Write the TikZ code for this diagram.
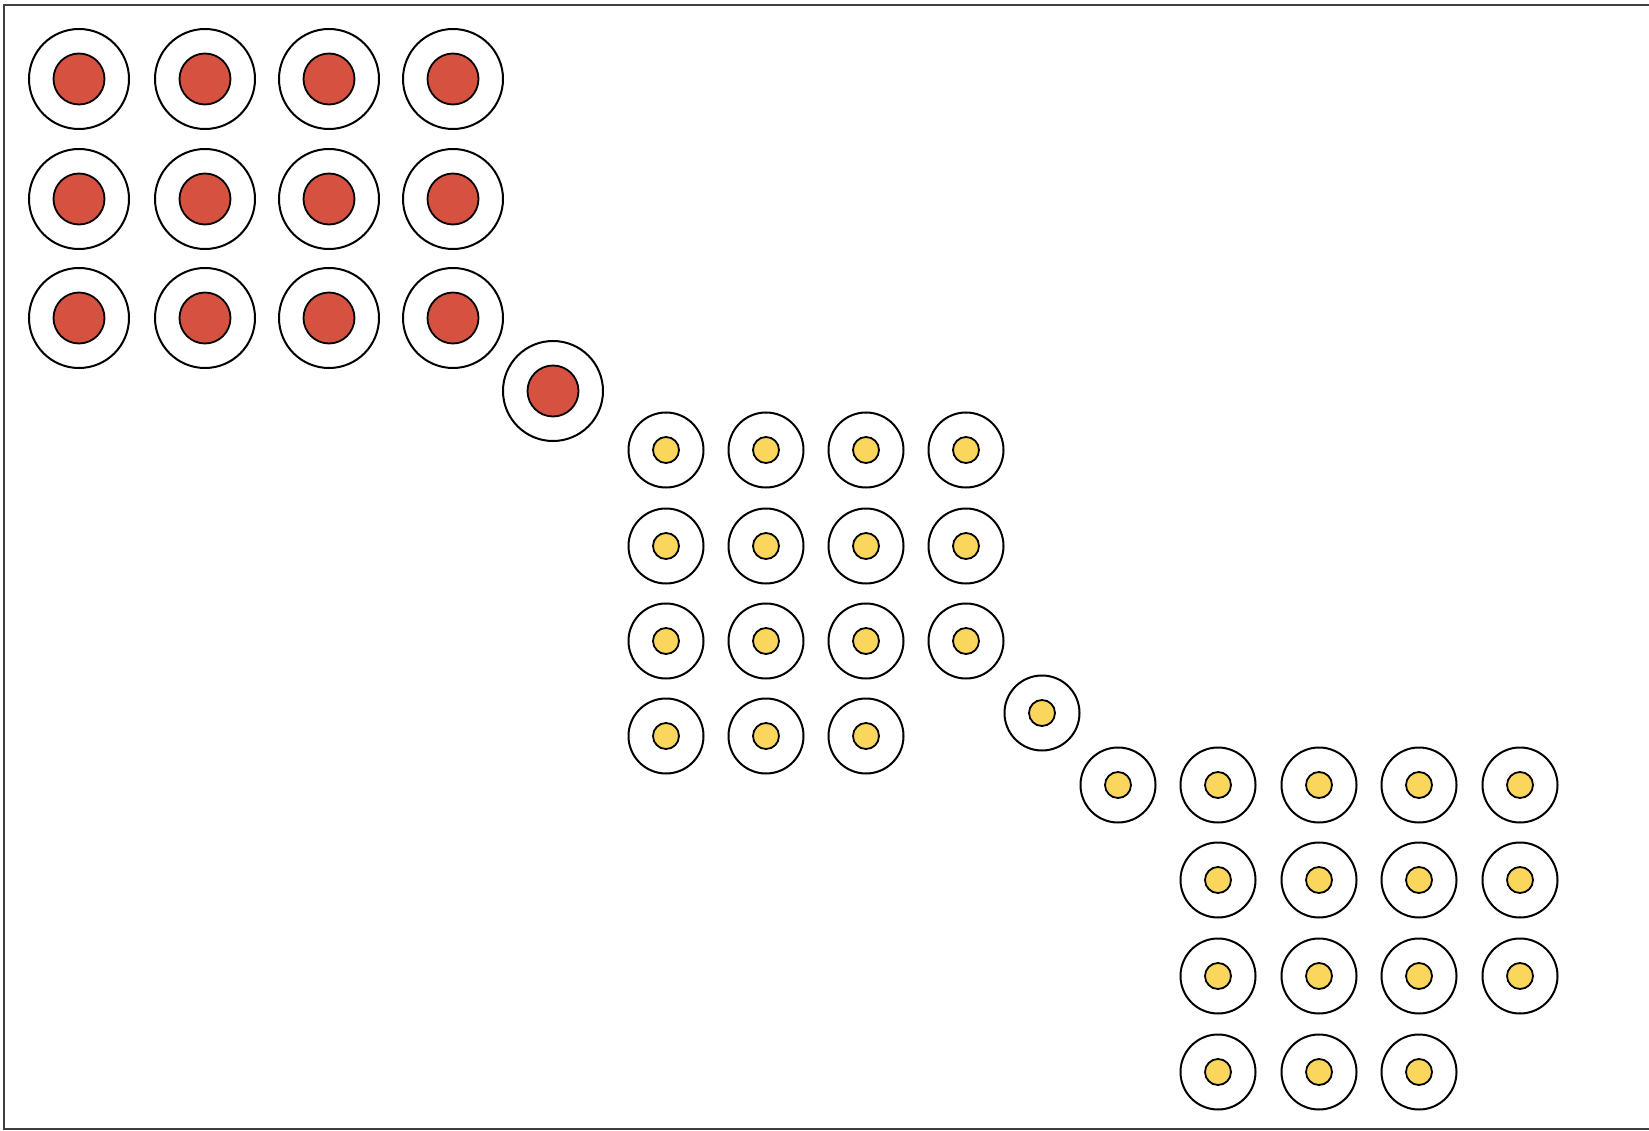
\documentclass[tikz,border=0pt]{standalone}
\usepackage{tikz}
\usetikzlibrary{positioning}

\definecolor{cellred}{RGB}{214,82,64}
\definecolor{cellyellow}{RGB}{250,214,92}

\tikzset{
  rim/.style={circle, draw=black, line width=2pt, fill=white, inner sep=0pt},
  bigrim/.style={rim, minimum size=100pt},
  smallrim/.style={rim, minimum size=75pt},
  reddot/.style={circle, draw=black, line width=1.8pt, fill=cellred, inner sep=0pt, minimum size=51pt},
  yellowdot/.style={circle, draw=black, line width=1.8pt, fill=cellyellow, inner sep=0pt, minimum size=26pt}
}

\begin{document}
\begin{tikzpicture}[x=1pt,y=-1pt]
        \useasboundingbox (0,0) rectangle (1649,1131);
        % frame
        \draw[line width=2pt, black!75] (1649,5) -- (4,5) -- (4,1129) -- (1649,1129);

        % red block, 3 rows of 4
        \foreach \row/\y in {1/79,2/199,3/318} {
          \foreach \col/\x in {1/79,2/205,3/329,4/453} {
            \node[bigrim] (r\row\col) at (\x,\y) {};
            \node[reddot] (rd\row\col) at (r\row\col.center) {};
          }
        }
        \node[bigrim] (rlone) at (553,391) {};
        \node[reddot] (rdlone) at (rlone.center) {};

        % first yellow block
        \foreach \row/\y in {1/450,2/546,3/641,4/736} {
          \foreach \col/\x in {1/666,2/766,3/866,4/966} {
            \ifnum\row\col=44\else
              \node[smallrim] (a\row\col) at (\x,\y) {};
              \node[yellowdot] (ad\row\col) at (a\row\col.center) {};
            \fi
          }
        }
        \node[smallrim] (alone) at (1042,713) {};
        \node[yellowdot] (adlone) at (alone.center) {};
        \node[smallrim] (blone) at (1118,785) {};
        \node[yellowdot] (bdlone) at (blone.center) {};

        % second yellow block
        \foreach \row/\y in {1/785,2/880,3/976,4/1072} {
          \foreach \col/\x in {1/1218,2/1319,3/1419,4/1520} {
            \ifnum\row\col=44\else
              \node[smallrim] (b\row\col) at (\x,\y) {};
              \node[yellowdot] (bd\row\col) at (b\row\col.center) {};
            \fi
          }
        }
\end{tikzpicture}
\end{document}
